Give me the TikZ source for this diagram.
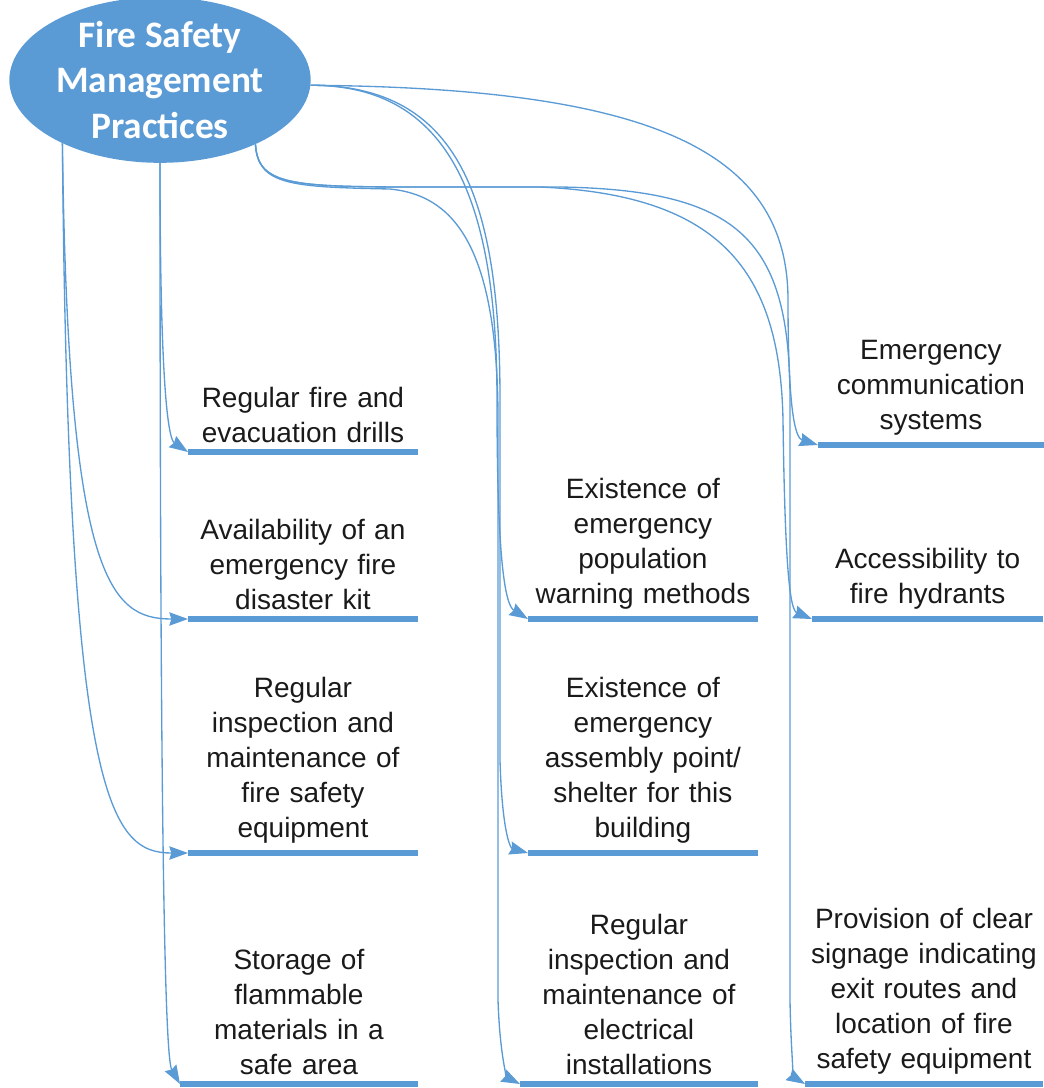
\documentclass[tikz,border=0pt]{standalone}
\usepackage{fontspec}
\setmainfont{Liberation Sans}
\newfontfamily\titlefont{Carlito}
\usetikzlibrary{arrows.meta,shapes.geometric}
\definecolor{fsblue}{HTML}{5B9BD5}
\definecolor{fstext}{HTML}{1A1A1A}
\begin{document}
\begin{tikzpicture}[x=0.75pt, y=-0.75pt,
link/.style={draw=fsblue, line width=1pt, -{Stealth[length=14pt,width=10pt,inset=1.5pt]}},
bar/.style={draw=fsblue, line width=4pt},
title node/.style={ellipse, fill=fsblue, minimum width=226pt, minimum height=111pt, inner sep=0pt, align=center, text=white, font=\titlefont\bfseries\fontsize{28}{34}\selectfont},
item node/.style={anchor=south west, text width=#1, align=center, inner xsep=0pt, inner ysep=7pt, text=fstext, font=\fontsize{21}{26.25}\selectfont}]
\useasboundingbox (0,0) rectangle (1043,1088);
\begin{scope}
\node[title node] (m0) at (160,80) {Fire Safety\\Management\\Practices};
\node[item node=172pt] (p1) at (188,452) {Regular fire and\\evacuation drills};
\node[item node=172pt] (p2) at (188,619) {Availability of an\\emergency fire\\disaster kit};
\node[item node=172pt] (p3) at (188,853) {Regular\\inspection and\\maintenance of\\fire safety\\equipment};
\node[item node=178pt] (p4) at (180,1084) {Storage of\\flammable\\materials in a\\safe area};
\node[item node=172pt] (p5) at (528,619) {Existence of\\emergency\\population\\warning methods};
\node[item node=172pt] (p6) at (528,853) {Existence of\\emergency\\assembly point/\\shelter for this\\building};
\node[item node=178pt] (p7) at (520,1084) {Regular\\inspection and\\maintenance of\\electrical\\installations};
\node[item node=169pt] (p8) at (818,445) {Emergency\\communication\\systems};
\node[item node=173pt] (p9) at (812,619) {Accessibility to\\fire hydrants};
\node[item node=178pt] (p10) at (805,1084) {Provision of clear\\signage indicating\\exit routes and\\location of fire\\safety equipment};
\end{scope}
\begin{scope}
\draw[bar] (p1.south west) -- (p1.south east);
\draw[bar] (p2.south west) -- (p2.south east);
\draw[bar] (p3.south west) -- (p3.south east);
\draw[bar] (p4.south west) -- (p4.south east);
\draw[bar] (p5.south west) -- (p5.south east);
\draw[bar] (p6.south west) -- (p6.south east);
\draw[bar] (p7.south west) -- (p7.south east);
\draw[bar] (p8.south west) -- (p8.south east);
\draw[bar] (p9.south west) -- (p9.south east);
\draw[bar] (p10.south west) -- (p10.south east);
\end{scope}
\begin{scope}
\draw[link] (m0.south) .. controls (160,410) and (170,440) .. (p1.south west);
\draw[link] (m0.213) .. controls (68,580) and (110,619) .. (p2.south west);
\draw[link] (m0.213) .. controls (68,800) and (110,853) .. (p3.south west);
\draw[link] (m0.south) .. controls (160,900) and (166,1060) .. (p4.south west);
\draw[link] (m0.-2) .. controls (450,85) and (497,200) .. (497,400) .. controls (497,560) and (505,605) .. (p5.south west);
\draw[link] (m0.-2) .. controls (460,85) and (500,200) .. (500,400) -- (500,760) .. controls (502,830) and (510,848) .. (p6.south west);
\draw[link] (m0.-34) .. controls (258,185) and (290,187) .. (390,189) .. controls (450,195) and (498,240) .. (498,420) -- (498,1000) .. controls (500,1060) and (508,1078) .. (p7.south west);
\draw[link] (m0.-2) .. controls (650,88) and (788,150) .. (788,300) .. controls (788,410) and (795,438) .. (p8.south west);
\draw[link] (m0.-34) .. controls (258,185) and (290,187) .. (420,187) -- (540,187) .. controls (720,195) and (780,270) .. (783,420) .. controls (785,570) and (790,610) .. (p9.south west);
\draw[link] (m0.-34) .. controls (258,185) and (290,187) .. (420,187) -- (560,187) .. controls (740,190) and (790,240) .. (790,400) -- (790,1000) .. controls (791,1060) and (795,1078) .. (p10.south west);
\end{scope}
\end{tikzpicture}
\end{document}
